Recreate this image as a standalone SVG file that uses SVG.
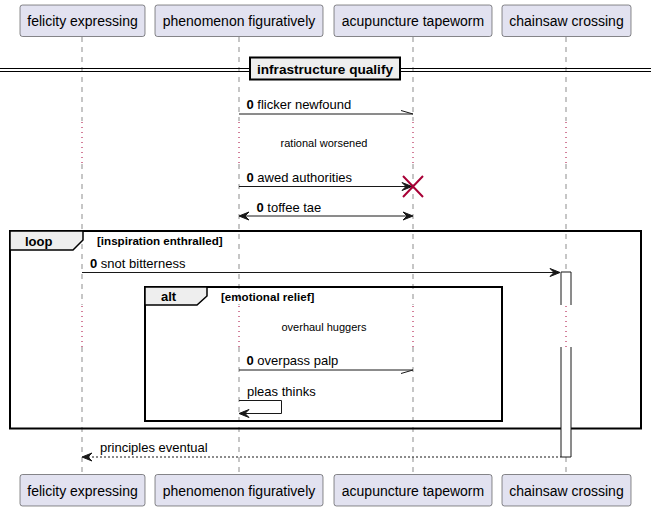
<svg xmlns="http://www.w3.org/2000/svg" width="657" height="511" viewBox="0 0 657 511">
  <defs>
    <style>
      text { font-family: "Liberation Sans", Arial, sans-serif; fill: #000000; }
      .pbox { fill: #E2E2F0; stroke: #181818; stroke-width: 0.5; }
      .pname { font-size: 14px; text-anchor: middle; }
      .life { stroke: #181818; stroke-width: 0.5; stroke-dasharray: 5,5; fill: none; }
      .delay { stroke: #A80036; stroke-width: 1; stroke-dasharray: 1,4; fill: none; }
      .msg { stroke: #181818; stroke-width: 1; fill: none; }
      .dash { stroke: #181818; stroke-width: 1; stroke-dasharray: 2,2; fill: none; }
      .head { fill: #181818; stroke: #181818; stroke-width: 1; }
      .mtxt { font-size: 13px; }
      .seq { font-weight: bold; }
      .note { font-size: 11px; text-anchor: middle; }
      .frame { fill: none; stroke: #000000; stroke-width: 2; }
      .tab { fill: #EEEEEE; stroke: #000000; stroke-width: 1.5; }
      .ftitle { font-size: 13px; font-weight: bold; }
      .fcond { font-size: 11.6px; font-weight: bold; }
    </style>
  </defs>
  <rect width="657" height="511" fill="#FFFFFF"/>

  <!-- lifelines: dashed, dotted across the two delays -->
  <g id="lifelines">
    <path class="life" d="M82,37 V121 M82,164 V305 M82,347 V474"/>
    <path class="life" d="M239,37 V121 M239,164 V305 M239,347 V474"/>
    <path class="life" d="M413,37 V121 M413,164 V305 M413,347 V474"/>
    <path class="life" d="M566,37 V121 M566,164 V272 M566,457 V474"/>
    <path class="delay" d="M82,122 V164 M239,122 V164 M413,122 V164 M566,122 V164"/>
    <path class="delay" d="M82,306 V347 M239,306 V347 M413,306 V347 M566,306 V347"/>
  </g>

  <!-- separator -->
  <g id="divider">
    <line x1="0" y1="68.5" x2="651" y2="68.5" stroke="#000000" stroke-width="1"/>
    <line x1="0" y1="71.5" x2="651" y2="71.5" stroke="#000000" stroke-width="1"/>
    <rect x="250" y="57.5" width="150" height="22" fill="#EEEEEE" stroke="#000000" stroke-width="2"/>
    <text x="325" y="74" font-size="13.6px" font-weight="bold" text-anchor="middle">infrastructure qualify</text>
  </g>

  <!-- combined fragments -->
  <g id="loop-frame">
    <rect class="frame" x="10" y="231" width="631" height="197.5"/>
    <path class="tab" d="M10,231 H83 V240 L73,250 H10 Z"/>
    <text x="25" y="246" class="ftitle">loop</text>
    <text x="97" y="245" class="fcond">[inspiration enthralled]</text>
  </g>
  <g id="alt-frame">
    <rect class="frame" x="145" y="287" width="357" height="134"/>
    <path class="tab" d="M145,287 H207 V296 L197,305 H145 Z"/>
    <text x="161" y="301" class="ftitle">alt</text>
    <text x="221" y="301" class="fcond">[emotional relief]</text>
  </g>

  <!-- activation on chainsaw crossing -->
  <g id="activation">
    <rect x="561" y="272" width="10" height="33" fill="#FFFFFF"/>
    <rect x="561" y="347" width="10" height="110" fill="#FFFFFF"/>
    <path class="msg" d="M561,305 V272 H571 V305 M561,347 V457 H571 V347"/>
  </g>

  <g id="connectors">
    <!-- flicker newfound -->
    <line class="msg" x1="239" y1="114" x2="413" y2="114"/>
    <line class="msg" x1="401" y1="110.5" x2="413" y2="114"/>
    <text x="246.5" y="109" class="mtxt"><tspan class="seq">0</tspan> flicker newfound</text>

    <!-- delay -->
    <text x="324" y="147" class="note">rational worsened</text>

    <!-- awed authorities + destroy -->
    <line class="msg" x1="239" y1="186.5" x2="411" y2="186.5"/>
    <polygon class="head" points="402,182.5 412,186.5 402,190.5 406,186.5"/>
    <path d="M403,176 L423,197 M423,176 L403,197" stroke="#A80036" stroke-width="2" fill="none"/>
    <text x="246.5" y="182" class="mtxt"><tspan class="seq">0</tspan> awed authorities</text>

    <!-- toffee tae -->
    <line class="msg" x1="240" y1="216" x2="412" y2="216"/>
    <polygon class="head" points="249,212 239,216 249,220 245,216"/>
    <polygon class="head" points="403,212 413,216 403,220 407,216"/>
    <text x="256.5" y="212" class="mtxt"><tspan class="seq">0</tspan> toffee tae</text>

    <!-- snot bitterness -->
    <line class="msg" x1="82" y1="272.5" x2="559" y2="272.5"/>
    <polygon class="head" points="550,268.5 560,272.5 550,276.5 554,272.5"/>
    <text x="90" y="268" class="mtxt"><tspan class="seq">0</tspan> snot bitterness</text>

    <!-- delay -->
    <text x="324" y="331" class="note">overhaul huggers</text>

    <!-- overpass palp -->
    <line class="msg" x1="239" y1="370" x2="413" y2="370"/>
    <line class="msg" x1="401" y1="373.5" x2="413" y2="370"/>
    <text x="246.5" y="365" class="mtxt"><tspan class="seq">0</tspan> overpass palp</text>

    <!-- pleas thinks (self) -->
    <path class="msg" d="M239,400.5 H281.5 V413.5 H241"/>
    <polygon class="head" points="249,409.5 239,413.5 249,417.5 245,413.5"/>
    <text x="247" y="395.5" class="mtxt">pleas thinks</text>

    <!-- principles eventual (return) -->
    <line class="dash" x1="84" y1="457" x2="561" y2="457"/>
    <polygon class="head" points="92,453 82,457 92,461 88,457"/>
    <text x="100" y="452" class="mtxt">principles eventual</text>
  </g>

  <!-- participants -->
  <g id="p-felicity">
    <rect class="pbox" x="20" y="5" width="125" height="31.5" rx="2.5"/>
    <text x="82.5" y="26" class="pname">felicity expressing</text>
    <rect class="pbox" x="20" y="474.5" width="125" height="31.5" rx="2.5"/>
    <text x="82.5" y="495.5" class="pname">felicity expressing</text>
  </g>
  <g id="p-phenomenon">
    <rect class="pbox" x="155" y="5" width="168" height="31.5" rx="2.5"/>
    <text x="239" y="26" class="pname">phenomenon figuratively</text>
    <rect class="pbox" x="155" y="474.5" width="168" height="31.5" rx="2.5"/>
    <text x="239" y="495.5" class="pname">phenomenon figuratively</text>
  </g>
  <g id="p-acupuncture">
    <rect class="pbox" x="334" y="5" width="158" height="31.5" rx="2.5"/>
    <text x="413" y="26" class="pname">acupuncture tapeworm</text>
    <rect class="pbox" x="334" y="474.5" width="158" height="31.5" rx="2.5"/>
    <text x="413" y="495.5" class="pname">acupuncture tapeworm</text>
  </g>
  <g id="p-chainsaw">
    <rect class="pbox" x="502" y="5" width="129" height="31.5" rx="2.5"/>
    <text x="566.5" y="26" class="pname">chainsaw crossing</text>
    <rect class="pbox" x="502" y="474.5" width="129" height="31.5" rx="2.5"/>
    <text x="566.5" y="495.5" class="pname">chainsaw crossing</text>
  </g>
</svg>
